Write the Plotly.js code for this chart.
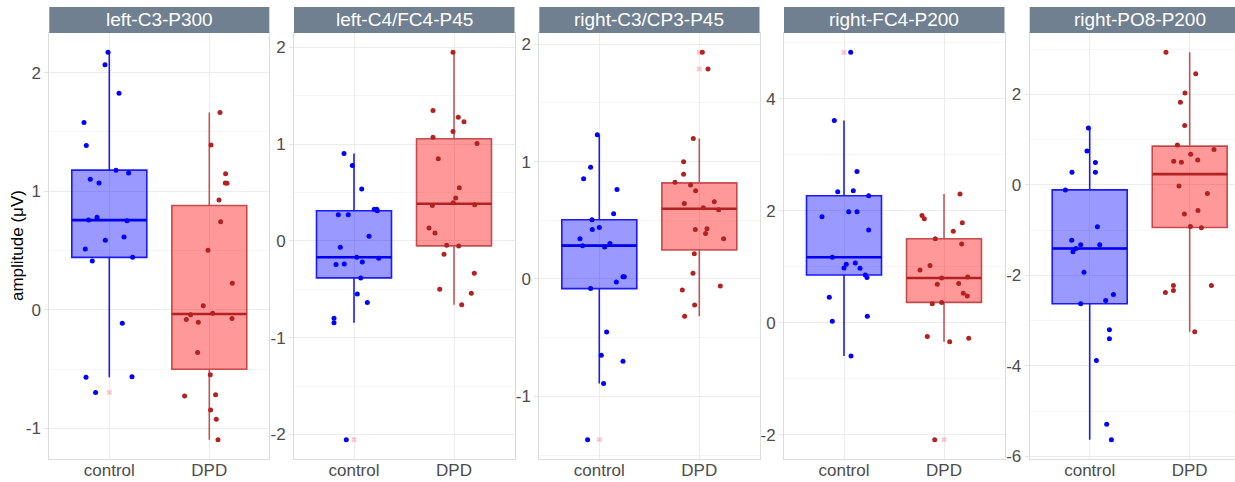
<!DOCTYPE html>
<html>
<head>
<meta charset="utf-8">
<script src="https://cdn.plot.ly/plotly-3.0.1.min.js"></script>
<style>html,body{margin:0;padding:0;background:#fff;}#chart{width:1235px;height:482px;}</style>
</head>
<body>
<div id="chart"></div>
<script>
// ---------------- data ----------------
const panelTitles = ["left-C3-P300", "left-C4/FC4-P45", "right-C3/CP3-P45", "right-FC4-P200", "right-PO8-P200"];
const groups = ["control", "DPD"];
const yTitle = "amplitude (\u03bcV)";

// amplitudes per panel & group, with the horizontal jitter seen in the picture
const leftC3P300_control = [2.171, 2.067, 1.826, 1.579, 1.386, 1.178, 1.153, 1.102, 1.069, 0.780, 0.757, 0.752, 0.614, 0.586, 0.513, 0.443, 0.412, -0.112, -0.569, -0.564, -0.696];
const leftC3P300_controlJitter = [-0.013, -0.043, 0.097, -0.253, -0.23, 0.067, 0.193, -0.19, -0.103, -0.123, -0.207, 0.177, 0.147, -0.04, -0.24, 0.233, -0.17, 0.13, -0.233, 0.227, -0.137];
const leftC3P300_DPD = [1.663, 1.391, 1.147, 1.069, 1.067, 0.926, 0.743, 0.502, 0.224, 0.034, -0.028, -0.042, -0.081, -0.073, -0.104, -0.359, -0.547, -0.727, -0.715, -0.844, -0.923, -1.094];
const leftC3P300_DPDJitter = [0.107, 0.017, 0.163, 0.16, 0.177, 0.097, 0.113, -0.013, 0.23, -0.06, 0.033, -0.187, -0.23, 0.227, -0.11, -0.117, 0.01, -0.247, 0.063, 0.013, 0.07, 0.087];

const leftC4P45_control = [0.905, 0.781, 0.537, 0.272, 0.272, 0.327, 0.327, 0.313, 0.048, -0.065, -0.169, -0.179, -0.244, -0.237, -0.217, -0.382, -0.547, -0.636, -0.798, -0.846, -2.054];
const leftC4P45_controlJitter = [-0.10, -0.017, 0.077, -0.157, -0.057, 0.203, 0.227, 0.233, 0.15, -0.137, 0.027, 0.247, -0.18, -0.097, 0.083, 0.067, 0.033, 0.133, -0.2, -0.2, -0.077];
const leftC4P45_DPD = [1.950, 1.348, 1.280, 1.232, 1.132, 1.073, 1.008, 0.850, 0.550, 0.444, 0.396, 0.368, 0.375, 0.134, 0.083, -0.045, -0.052, -0.138, -0.334, -0.499, -0.540, -0.660];
const leftC4P45_DPDJitter = [-0.01, -0.21, 0.043, 0.1, -0.01, -0.21, 0.23, -0.157, 0.053, 0.017, -0.007, -0.217, 0.207, -0.25, -0.19, -0.073, 0.047, -0.1, 0.203, -0.143, 0.173, 0.077];

const rightC3P45_control = [1.230, 0.953, 0.853, 0.763, 0.556, 0.505, 0.439, 0.422, 0.343, 0.303, 0.284, 0.272, 0.020, 0.020, -0.026, -0.082, -0.451, -0.649, -0.700, -0.890, -1.369];
const rightC3P45_controlJitter = [-0.02, -0.087, -0.157, 0.177, 0.143, -0.073, 0, -0.07, -0.193, 0.107, -0.167, 0.053, 0.237, 0.25, 0.17, -0.087, 0.073, 0.02, 0.237, 0.043, -0.117];
const rightC3P45_DPD = [1.931, 1.789, 1.196, 0.998, 0.893, 0.825, 0.800, 0.751, 0.658, 0.644, 0.607, 0.590, 0.422, 0.428, 0.388, 0.343, 0.215, 0.048, -0.060, -0.094, -0.221, -0.318];
const rightC3P45_DPDJitter = [0.03, 0.087, -0.06, -0.157, -0.157, -0.243, -0.087, -0.037, 0.15, -0.15, 0.04, 0.193, -0.04, 0.077, 0.063, 0.243, -0.05, -0.063, 0.21, -0.17, -0.047, -0.147];

const rightFC4P200_control = [4.825, 3.608, 2.700, 2.338, 2.356, 2.267, 1.982, 1.982, 1.893, 1.656, 1.169, 1.045, 1.068, 0.979, 0.973, 0.855, 0.807, 0.457, 0.119, 0.030, -0.593];
const rightFC4P200_controlJitter = [0.067, -0.097, 0.13, -0.063, 0.093, 0.247, 0.047, 0.13, -0.22, 0.247, -0.117, 0.023, 0.113, 0, 0.16, 0.213, 0.23, -0.147, 0.233, -0.117, 0.07];
const rightFC4P200_DPD = [2.297, 1.917, 1.858, 1.786, 1.632, 1.500, 1.407, 1.021, 0.944, 0.801, 0.819, 0.688, 0.700, 0.528, 0.481, 0.340, 0.365, -0.243, -0.338, -0.273, -2.083];
const rightFC4P200_DPDJitter = [0.16, -0.22, -0.197, 0.183, 0.093, -0.087, 0.177, -0.14, -0.24, -0.023, 0.237, -0.067, 0.147, 0.193, 0.233, -0.117, -0.023, -0.167, 0.057, 0.247, -0.093];

const rightPO8P200_control = [1.259, 0.751, 0.493, 0.280, 0.280, -0.110, -0.928, -1.222, -1.325, -1.325, -1.406, -1.480, -1.929, -2.423, -2.555, -2.629, -3.203, -3.402, -3.881, -5.295, -5.633];
const rightPO8P200_controlJitter = [-0.013, -0.027, 0.057, -0.177, 0.057, -0.243, 0.077, -0.18, -0.09, 0.1, -0.137, -0.167, -0.057, 0.237, 0.16, -0.09, 0.197, 0.197, 0.067, 0.17, 0.217];
const rightPO8P200_DPD = [2.931, 2.459, 2.032, 1.826, 1.311, 0.884, 0.781, 0.677, 0.523, 0.501, 0.552, -0.022, -0.191, -0.641, -0.567, -0.920, -0.950, -2.224, -2.334, -2.379, -2.224, -3.247];
const rightPO8P200_DPDJitter = [-0.237, 0.06, -0.047, -0.093, -0.05, -0.123, 0.243, 0.01, -0.16, -0.083, 0.08, -0.107, 0.177, -0.053, 0.083, 0.007, 0.117, -0.163, -0.163, -0.243, 0.217, 0.05];

const yTickStep = [1, 1, 1, 2, 2];

// ---------------- assembly ----------------
const panelData = [
  [[leftC3P300_control, leftC3P300_controlJitter], [leftC3P300_DPD, leftC3P300_DPDJitter]],
  [[leftC4P45_control, leftC4P45_controlJitter], [leftC4P45_DPD, leftC4P45_DPDJitter]],
  [[rightC3P45_control, rightC3P45_controlJitter], [rightC3P45_DPD, rightC3P45_DPDJitter]],
  [[rightFC4P200_control, rightFC4P200_controlJitter], [rightFC4P200_DPD, rightFC4P200_DPDJitter]],
  [[rightPO8P200_control, rightPO8P200_controlJitter], [rightPO8P200_DPD, rightPO8P200_DPDJitter]]
];

const W = 1235, H = 482;
const panelPx = [[49.3, 269.3], [294, 514.5], [539.3, 759.5], [784, 1004.5], [1029.7, 1249.7]];
const plotTop = 33, plotBottom = 459, stripTop = 7;
const pxPerUnit = (panelPx[0][1] - panelPx[0][0]) / 2.2;

const style = [
  {point: "#0000ff", fill: "rgba(0,0,255,0.4)", line: "#1a1aff", median: "#0000ee"},
  {point: "#b22222", fill: "rgba(255,0,0,0.4)", line: "rgba(178,34,34,0.75)", median: "#b22222"}
];

function q7(s, p) {
  const h = (s.length - 1) * p, lo = Math.floor(h);
  const hi = Math.min(lo + 1, s.length - 1);
  return s[lo] + (h - lo) * (s[hi] - s[lo]);
}
function stats(v) {
  const s = v.slice().sort((a, b) => a - b);
  const q1 = q7(s, 0.25), med = q7(s, 0.5), q3 = q7(s, 0.75), iqr = q3 - q1;
  const lo = q1 - 1.5 * iqr, hi = q3 + 1.5 * iqr;
  const inside = s.filter(x => x >= lo && x <= hi);
  return {q1, med, q3, lf: inside[0], uf: inside[inside.length - 1], out: s.filter(x => x < lo || x > hi)};
}

const traces = [];
const layout = {
  width: W, height: H,
  margin: {l: 0, r: 0, t: 0, b: 0},
  paper_bgcolor: "#ffffff", plot_bgcolor: "#ffffff",
  showlegend: false,
  font: {family: "Liberation Sans, Arial, sans-serif", color: "#4d4d4d"},
  shapes: [], annotations: []
};
const yDom = [(H - plotBottom) / H, (H - plotTop) / H];
const font = "Liberation Sans, Arial, sans-serif";

panelData.forEach((pd, k) => {
  const n = k + 1;
  const xa = "x" + n, ya = "y" + n;
  const allVals = pd[0][0].concat(pd[1][0]);
  const mn = Math.min(...allVals), mx = Math.max(...allVals), pad = 0.05 * (mx - mn);
  const yr = [mn - pad, mx + pad];

  pd.forEach((gd, g) => {
    const vals = gd[0], jit = gd[1], st = stats(vals), sty = style[g];
    traces.push({
      type: "box", xaxis: xa, yaxis: ya, x: [g],
      q1: [st.q1], median: [st.med], q3: [st.q3], lowerfence: [st.lf], upperfence: [st.uf],
      width: 0.75, whiskerwidth: 0, boxpoints: false,
      fillcolor: sty.fill, line: {color: sty.line, width: 1.6}, hoverinfo: "skip"
    });
    traces.push({
      type: "scatter", mode: "lines", xaxis: xa, yaxis: ya,
      x: [g - 0.375, g + 0.375], y: [st.med, st.med],
      line: {color: sty.median, width: 2.6}, hoverinfo: "skip"
    });
    if (st.out.length) {
      traces.push({
        type: "scatter", mode: "markers", xaxis: xa, yaxis: ya,
        x: st.out.map(() => g), y: st.out,
        marker: {symbol: "x", size: 5, color: "rgba(255,90,110,0.35)"}, hoverinfo: "skip"
      });
    }
    traces.push({
      type: "scatter", mode: "markers", xaxis: xa, yaxis: ya,
      x: vals.map((v, i) => g + jit[i]), y: vals,
      marker: {size: 5, color: sty.point}, hoverinfo: "y"
    });
  });

  const x0 = panelPx[k][0], x1 = Math.min(panelPx[k][1], W);
  const xr = [-0.6, -0.6 + (x1 - x0) / pxPerUnit];
  const step = yTickStep[k];
  const tv = [], tt = [], mv = [];
  for (let t = Math.ceil(yr[0] / step) * step; t <= yr[1] + 1e-9; t += step) { tv.push(t); tt.push(String(t)); }
  for (let t = Math.ceil(yr[0] / (step / 2)) * (step / 2); t <= yr[1] + 1e-9; t += step / 2) mv.push(t);

  layout["xaxis" + n] = {
    domain: [x0 / W, x1 / W], anchor: ya, range: xr,
    tickmode: "array", tickvals: [0, 1], ticktext: groups,
    showgrid: true, gridcolor: "#ececec", gridwidth: 1, zeroline: false,
    showline: true, mirror: true, linecolor: "#dcdcdc", linewidth: 1,
    ticks: "", ticklabelstandoff: -4,
    tickfont: {family: font, size: 17, color: "#4d4d4d"}, fixedrange: true
  };
  layout["yaxis" + n] = {
    domain: yDom, anchor: xa, range: yr,
    tickmode: "array", tickvals: tv, ticktext: tt,
    showgrid: true, gridcolor: "#ececec", gridwidth: 1, zeroline: false,
    minor: {tickmode: "array", tickvals: mv, showgrid: true, gridcolor: "#f6f6f6", ticks: ""},
    showline: true, mirror: true, linecolor: "#dcdcdc", linewidth: 1,
    ticks: "outside", ticklen: 4, tickcolor: "#e3e3e3",
    tickfont: {family: font, size: 17, color: "#4d4d4d"}, fixedrange: true
  };

  layout.shapes.push({
    type: "rect", xref: "paper", yref: "paper",
    x0: x0 / W, x1: x1 / W, y0: (H - plotTop) / H, y1: (H - stripTop) / H,
    fillcolor: "#708090", line: {width: 0}, layer: "above"
  });
  layout.annotations.push({
    xref: "paper", yref: "paper",
    x: (panelPx[k][0] + panelPx[k][1]) / 2 / W, y: (H - (plotTop + stripTop) / 2) / H,
    xanchor: "center", yanchor: "middle", showarrow: false,
    text: panelTitles[k], font: {family: font, size: 19, color: "#ffffff"}
  });
});

layout.annotations.push({
  xref: "paper", yref: "paper", x: 18 / W, y: (H - (plotTop + plotBottom) / 2) / H,
  xanchor: "center", yanchor: "middle", showarrow: false, textangle: -90,
  text: yTitle, font: {family: font, size: 17, color: "#000000"}
});

Plotly.newPlot("chart", traces, layout, {displayModeBar: false, staticPlot: false});
</script>
</body>
</html>
